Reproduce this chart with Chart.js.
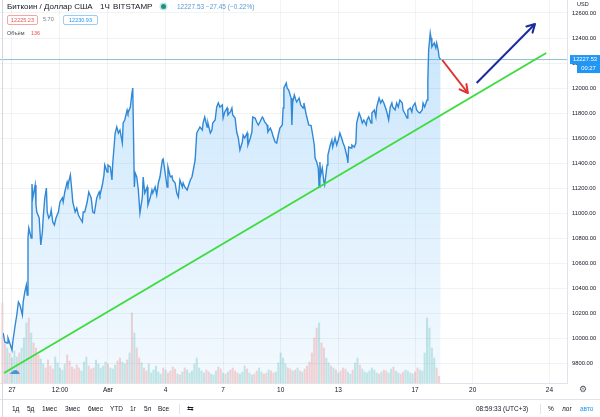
<!DOCTYPE html>
<html>
<head>
<meta charset="utf-8">
<script src="https://cdn.jsdelivr.net/npm/chart.js@4.4.1/dist/chart.umd.min.js"></script>
<style>
html, body { margin: 0; padding: 0; background: #fff; }
body { width: 600px; height: 417px; position: relative; overflow: hidden;
       font-family: "Liberation Sans", Arial, sans-serif; color: #131722; }
#wrap { position: absolute; left: 0; top: 0; width: 600px; height: 400px; }
.t { position: absolute; white-space: nowrap; line-height: 1; }
.box { position: absolute; height: 8px; line-height: 8px; font-size: 5.5px; text-align: center;
       border-radius: 2px; }
</style>
</head>
<body>
<div id="wrap"><canvas id="btcChart" width="600" height="400"></canvas></div>

<!-- legend -->
<div class="t" style="left:7px;top:3px;font-size:8px;">Биткоин / Доллар США</div>
<div class="t" style="left:100px;top:3px;font-size:8px;">1Ч</div>
<div class="t" style="left:113px;top:3px;font-size:8px;">BITSTAMP</div>
<div class="t" style="left:161px;top:4px;width:5px;height:5px;border-radius:50%;background:#1f8f86;box-shadow:0 0 0 1.5px #bfe6e2;"></div>
<div class="t" style="left:177px;top:4px;font-size:6.5px;color:#5b9bd5;">12227.53 −27.45 (−0.22%)</div>
<div class="box" style="left:7px;top:15px;width:29px;border:1px solid #f3a6a4;color:#ef5350;">12225.23</div>
<div class="t" style="left:43px;top:17px;font-size:5.5px;color:#787b86;">5.70</div>
<div class="box" style="left:63px;top:15px;width:33px;border:1px solid #9ccbf3;color:#2196f3;">12230.93</div>
<div class="t" style="left:7px;top:31px;font-size:5.5px;color:#434651;">Объём</div>
<div class="t" style="left:31px;top:31px;font-size:5.5px;color:#ef5350;">136</div>
<div class="t" style="left:577px;top:2px;font-size:5.5px;">USD</div>
<div class="t" style="left:9px;top:365px;font-size:11px;color:#4f93d6;">☁</div>
<div class="t" style="left:579px;top:385px;font-size:9px;color:#50535e;">⚙</div>

<!-- bottom toolbar -->
<div style="position:absolute;left:0;top:399px;width:600px;height:1px;background:#e0e3eb;"></div>
<div class="t" style="left:12px;top:406px;font-size:6.5px;">1д</div>
<div class="t" style="left:27px;top:406px;font-size:6.5px;">5д</div>
<div class="t" style="left:42px;top:406px;font-size:6.5px;">1мес</div>
<div class="t" style="left:65px;top:406px;font-size:6.5px;">3мес</div>
<div class="t" style="left:88px;top:406px;font-size:6.5px;">6мес</div>
<div class="t" style="left:110px;top:406px;font-size:6.5px;">YTD</div>
<div class="t" style="left:130px;top:406px;font-size:6.5px;">1г</div>
<div class="t" style="left:144px;top:406px;font-size:6.5px;">5л</div>
<div class="t" style="left:158px;top:406px;font-size:6.5px;">Все</div>
<div style="position:absolute;left:179px;top:404px;width:1px;height:10px;background:#e0e3eb;"></div>
<div class="t" style="left:187px;top:405px;font-size:8px;">⇆</div>
<div class="t" style="left:476px;top:406px;font-size:6.5px;">08:59:33 (UTC+3)</div>
<div style="position:absolute;left:540px;top:404px;width:1px;height:10px;background:#e0e3eb;"></div>
<div class="t" style="left:548px;top:406px;font-size:6.5px;">%</div>
<div class="t" style="left:562px;top:406px;font-size:6.5px;">лог</div>
<div class="t" style="left:580px;top:406px;font-size:6.5px;color:#2196f3;">авто</div>
<div style="position:absolute;left:2px;top:0;width:1px;height:417px;background:#d6d8de;"></div>

<script>
/* hours counted from 26 Jul 2020 00:00 (UTC+3), hourly BTC/USD close */
const hours = [
  13,15,18,19,22,24,25,28,30,32, 34,37,38,40,42,43,44,45,48,49,
  50,53,54,55,58,60,62,63,65,67, 68,70,72,73,75,77,79,82,84,87,
  88,90,93,94,97,99,100,103,105,107, 109,112,113,115,118,120,123,125,127,130,
  133,134,137,139,140,143,144,147,149,150, 153,
  155,157,159,162,163,165,168,169,172,174, 175,177,178,180,182,184,187,188,190,193,
  194,197,199,200,203,205,207,209,212,213, 215,218,219,222,224,225,228,230,232,234,
  237,238,240,243,247,249,250,253,255,257, 259,262,263,265,268,269,272,274,275,278,
  280,282,284,
  287,288,290,293,294,297,299,300,303,305, 307,309,312,313,315,318,319,322,324,325,
  328,330,332,334,337,338,340,343,344,347, 349,350,353,355,357,359,362,363,364,367,
  368,370,373,374,375,377,379,380,383,385, 388,389,392,393,395,398,400,402,403,405,
  407,408,409,410,412,414,415,418,419,422,
  424,425,428,430,432,434,437,438,440,443, 444,445,448,449,452,454,455,458,460,462,
  464,467,468,470,473,474,477,479,480,483, 485,487,489,492,493,495,497,499,500,503,
  505,507,509,512,513,515,518,519,522,524, 525,528,530,532,534,537,538,540,543,544,
  545,547,548,549,552,554,555,557,558,560
];
const prices = [
  10040,9968,9960,10000,9944,9904,9968,10104,10184,10288, 10264,10184,10288,10368,10424,10344,10800,10880,10800,11232,
  11120,11224,11064,11008,10960,10744,10848,10960,11120,11200, 11008,10960,10984,11024,10928,10904,10960,11008,11088,11120,
  11088,11168,11248,11224,11304,11168,11088,11008,11040,10984, 10960,10928,11008,11008,11088,11168,11120,11008,11000,11120,
  11168,11144,11224,11304,11384,11328,11384,11368,11264,11400, 11640,
  11688,11640,11664,11560,11720,11744,11824,11800,11848,11960, 12000,11208,11320,11288,11184,11000,11128,11288,11160,11208,
  11064,11128,11184,11160,11208,11144,11240,11288,11424,11432, 11344,11208,11368,11288,11296,11264,11240,11160,11128,11264,
  11208,11240,11208,11184,11264,11288,11320,11424,11640,11664, 11688,11664,11720,11768,11688,11720,11640,11664,11720,11744,
  11848,11880,11848,
  11864,11760,11808,11840,11784,11808,11840,11784,11760,11648, 11600,11504,11568,11624,11600,11640,11544,11600,11648,11768,
  11760,11728,11704,11728,11768,11760,11728,11704,11648,11680, 11648,11624,11568,11560,11624,11680,11704,11840,12000,12040,
  12000,11984,11920,11704,11888,11944,11904,11888,11920,11864, 11840,11880,11784,11760,11704,11700,11624,11544,11440,11408,
  11360,11208,11408,11304,11360,11248,11224,11384,11464,11544,
  11584,11528,11600,11544,11584,11640,11584,11560,11528,11448, 11400,11528,11520,11544,11528,11560,11720,11800,11768,11720,
  11744,11704,11744,11768,11720,11800,11824,11768,11848,11920, 11880,11904,11880,11824,11800,11744,11848,11880,11848,11824,
  11880,11848,11904,11880,11824,11800,11760,11824,11840,11808, 11848,11880,11824,11808,11800,11824,11880,11848,11904,12064,
  12304,12440,12400,12328,12360,12320,12360,12304,12248,12227.53
];

/* volume (BTC), one bar every 3 hours starting at hour 12 */
const volStart = 12, volStep = 3;
const volumes = [
  1600,800,700,600,500,640,
  520,600,700,900,1200,1300,1000,800,700,560,480,
  380,300,460,340,280,520,400,300,260,380,560,440,320,280,360,300,240,420,520,340,280,300,460,380,300,
  340,420,380,300,280,360,440,500,420,380,460,600,1400,
  1000,700,500,400,
  300,240,380,200,260,340,220,180,300,260,200,240,320,280,180,160,220,300,260,200,
  240,380,500,300,240,200,260,220,180,160,240,320,280,200,180,220,260,300,240,200,
  180,220,340,280,200,160,180,240,300,220,180,200,260,240,200,220,
  400,600,500,380,300,280,240,
  260,300,240,220,280,340,420,600,900,1100,
  1200,800,700,500,400,340,
  300,260,200,240,300,280,220,180,260,400,500,360,280,220,200,240,300,260,200,180,
  220,260,240,200,280,320,240,200,180,220,260,240,200,180,220,300,260,240,
  600,1300,1100,700,500,300,136
];

/* time axis labels */
const tickHours  = [24, 84, 144, 216, 288, 360, 432, 528, 600, 696];
const tickLabels = ['27', '12:00', 'Авг', '4', '7', '10', '13', '17', '20', '24'];
const priceTicks = [9800, 10000, 10200, 10400, 10600, 10800, 11000, 11200, 11400, 11600, 11800, 12000, 12200, 12400, 12600];

/* drawings */
const trendHours = [14, 692],   trendPrices = [9720, 12280];
const downHours  = [562, 594],  downPrices  = [12224, 11960];
const upHours    = [605, 678],  upPrices    = [12040, 12512];
const lastPrice = 12227.53;
const countdown = '00:27';

const toPoints = (xs, ys) => xs.map((x, i) => ({x: x, y: ys[i]}));

function priceAt(t) {
    let p = prices[0];
    for (let i = 0; i < hours.length && hours[i] <= t; i++) p = prices[i];
    return p;
}
const volPoints = volumes.map((v, i) => ({x: volStart + i * volStep, y: v}));
const volColors = volPoints.map(p =>
    priceAt(p.x + volStep) >= priceAt(p.x) ? 'rgba(38,166,154,0.25)' : 'rgba(239,83,80,0.25)');

/* arrow heads for the two hand drawn arrows */
const arrowHeads = {
    id: 'arrowHeads',
    afterDatasetsDraw(chart) {
        const c = chart.ctx;
        chart.data.datasets.forEach((ds, i) => {
            if (!ds.arrow) return;
            const pts = chart.getDatasetMeta(i).data;
            const a = pts[pts.length - 2], b = pts[pts.length - 1];
            const ang = Math.atan2(b.y - a.y, b.x - a.x);
            c.save();
            c.strokeStyle = ds.borderColor;
            c.lineWidth = ds.borderWidth;
            c.lineCap = 'round';
            c.beginPath();
            [-1, 1].forEach(s => {
                c.moveTo(b.x, b.y);
                c.lineTo(b.x - 9 * Math.cos(ang + s * 0.5), b.y - 9 * Math.sin(ang + s * 0.5));
            });
            c.stroke();
            c.restore();
        });
    }
};

/* last price tag on the price scale */
const priceTag = {
    id: 'priceTag',
    afterDraw(chart) {
        const c = chart.ctx;
        const right = chart.chartArea.right;
        const y = chart.scales.y.getPixelForValue(lastPrice);
        c.save();
        c.fillStyle = '#2196f3';
        c.fillRect(right + 3, y - 4.5, 600 - right - 3, 9);
        c.fillRect(right + 10, y + 4.5, 600 - right - 10, 9);
        c.fillStyle = '#fff';
        c.font = '5.8px "Liberation Sans", Arial';
        c.textBaseline = 'middle';
        c.textAlign = 'center';
        c.fillText(lastPrice.toFixed(2), (right + 3 + 600) / 2, y);
        c.fillText(countdown, (right + 10 + 600) / 2, y + 9);
        c.restore();
    }
};

new Chart(document.getElementById('btcChart'), {
    type: 'line',
    data: {
        datasets: [{
            type: 'bar',
            data: volPoints,
            yAxisID: 'yVol',
            backgroundColor: volColors,
            barThickness: 1.4,
            order: 5
        }, {
            data: [{x: 9, y: lastPrice}, {x: 718, y: lastPrice}],
            borderColor: 'rgba(52,140,168,0.55)',
            borderWidth: 1,
            pointRadius: 0,
            order: 4
        }, {
            data: toPoints(hours, prices),
            borderColor: '#3189d6',
            borderWidth: 1.4,
            pointRadius: 0,
            tension: 0,
            fill: 'start',
            backgroundColor: (c) => {
                const a = c.chart.chartArea;
                if (!a) return 'rgba(33,150,243,0.15)';
                const g = c.chart.ctx.createLinearGradient(0, a.top, 0, a.bottom);
                g.addColorStop(0, 'rgba(33,150,243,0.26)');
                g.addColorStop(1, 'rgba(33,150,243,0.05)');
                return g;
            },
            order: 3
        }, {
            data: toPoints(trendHours, trendPrices),
            borderColor: '#3fdc3f',
            borderWidth: 2,
            pointRadius: 0,
            order: 1
        }, {
            data: toPoints(downHours, downPrices),
            borderColor: '#e03131',
            borderWidth: 2,
            pointRadius: 0,
            arrow: true,
            order: 0
        }, {
            data: toPoints(upHours, upPrices),
            borderColor: '#1b2b9e',
            borderWidth: 2,
            pointRadius: 0,
            arrow: true,
            order: 0
        }]
    },
    options: {
        responsive: false,
        animation: false,
        devicePixelRatio: 1,
        layout: {padding: 0},
        plugins: {legend: {display: false}, tooltip: {enabled: false}},
        scales: {
            x: {
                type: 'linear',
                min: 9,
                max: 718,
                offset: false,
                afterBuildTicks: (s) => { s.ticks = tickHours.map(v => ({value: v})); },
                afterFit: (s) => { s.height = 17; s.paddingLeft = 0; s.paddingRight = 0; },
                ticks: {
                    autoSkip: false,
                    maxRotation: 0,
                    padding: 3.5,
                    color: '#131722',
                    font: {family: '"Liberation Sans", Arial', size: 6.5},
                    callback: (v) => tickLabels[tickHours.indexOf(v)]
                },
                grid: {color: 'rgba(42,46,57,0.06)', drawTicks: false, offset: false},
                border: {display: true, color: '#e0e3eb'}
            },
            y: {
                type: 'linear',
                position: 'right',
                min: 9640,
                max: 12704,
                afterBuildTicks: (s) => { s.ticks = priceTicks.map(v => ({value: v})); },
                afterFit: (s) => { s.width = 33; s.paddingTop = 0; s.paddingBottom = 0; },
                ticks: {
                    padding: 5,
                    color: '#131722',
                    font: {family: '"Liberation Sans", Arial', size: 5.8},
                    callback: (v) => v.toFixed(2)
                },
                grid: {color: 'rgba(42,46,57,0.06)', drawTicks: false},
                border: {display: true, color: '#e0e3eb'}
            },
            yVol: {
                display: false,
                min: 0,
                max: 7660
            }
        }
    },
    plugins: [arrowHeads, priceTag]
});
</script>
</body>
</html>
